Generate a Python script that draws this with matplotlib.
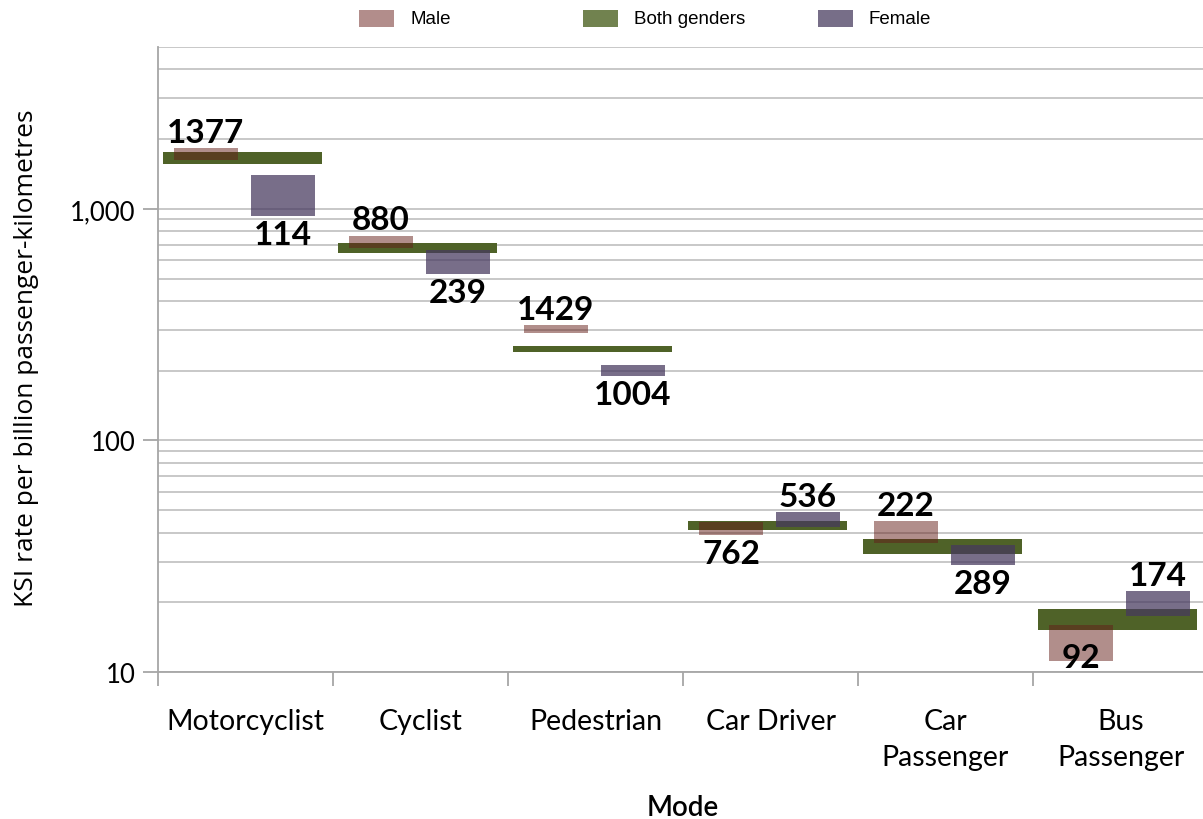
import matplotlib
matplotlib.use("Agg")
import matplotlib.pyplot as plt
from matplotlib.patches import Rectangle
import numpy as np

modes = ["Motorcyclist", "Cyclist", "Pedestrian", "Car Driver", "Car\nPassenger", "Bus\nPassenger"]
male_low = [1630, 676, 290, 39.2, 36.0, 11.2]
male_high = [1830, 767, 315, 44.6, 44.8, 16.0]
both_low = [1565, 644, 242, 41.1, 32.3, 15.2]
both_high = [1760, 713, 257, 44.8, 37.5, 18.7]
female_low = [935, 524, 190, 42.2, 29.1, 17.4]
female_high = [1405, 665, 212, 48.9, 35.4, 22.3]
male_n = [1377, 880, 1429, 762, 222, 92]
female_n = [114, 239, 1004, 536, 289, 174]
male_label_pos = ["above", "above", "above", "below", "above", "inside"]
female_label_pos = ["below", "below", "below", "above", "below", "above"]

C_MALE = (100/255, 30/255, 25/255)
C_FEMALE = (70/255, 56/255, 94/255)
C_BOTH = "#4F6228"

fig = plt.figure(figsize=(12.03, 8.2), dpi=100)
ax = fig.add_axes([158/1203, 1 - 673/820, 1050/1203, (673 - 48)/820])

x = np.arange(len(modes))
m_lo, m_hi = np.array(male_low), np.array(male_high)
b_lo, b_hi = np.array(both_low), np.array(both_high)
f_lo, f_hi = np.array(female_low), np.array(female_high)

ax.bar(x - 0.017, b_hi - b_lo, bottom=b_lo, width=0.908, color=C_BOTH, zorder=3)
ax.bar(x - 0.226, m_hi - m_lo, bottom=m_lo, width=0.366, color=C_MALE, alpha=0.5, zorder=4)
ax.bar(x + 0.214, f_hi - f_lo, bottom=f_lo, width=0.366, color=C_FEMALE, alpha=0.73, zorder=5)

ax.set_yscale("log")
ax.set_ylim(10, 5000)
ax.set_xlim(-0.5, len(modes) - 0.5)

lab_kw = dict(fontfamily="Lato", fontweight="bold", fontsize=24, color="black", ha="center", zorder=6)

def put(xc, lo, hi, n, pos):
    if pos == "above":
        ax.annotate(str(n), (xc, hi), xytext=(0, 1), textcoords="offset points", va="bottom", **lab_kw)
    elif pos == "below":
        ax.annotate(str(n), (xc, lo), xytext=(0, -3), textcoords="offset points", va="top", **lab_kw)
    else:
        ax.annotate(str(n), (xc, lo), xytext=(0, -4.5), textcoords="offset points", va="baseline", **lab_kw)

for i in range(len(modes)):
    put(x[i] - 0.226, m_lo[i], m_hi[i], male_n[i], male_label_pos[i])
    put(x[i] + 0.214, f_lo[i], f_hi[i], female_n[i], female_label_pos[i])

# grid
ax.yaxis.grid(True, which="both", color="#C4C4C4", linewidth=1.3, zorder=0)
ax.set_axisbelow(True)
for s in ["top", "right"]:
    ax.spines[s].set_visible(False)
for s in ["left", "bottom"]:
    ax.spines[s].set_color("#A6A6A6")
    ax.spines[s].set_linewidth(1.3)

ax.set_yticks([10, 100, 1000])
ax.set_yticklabels(["10", "100", "1,000"])
ax.yaxis.set_minor_formatter(matplotlib.ticker.NullFormatter())
ax.tick_params(axis="y", which="major", length=11, width=1.3, color="#A6A6A6", direction="out", pad=5)
ax.tick_params(axis="y", which="minor", length=0)

ax.set_xticks(np.arange(-0.5, len(modes), 1.0))
ax.set_xticklabels([])
ax.set_xticks(x, minor=True)
ax.set_xticklabels(modes, minor=True)
ax.tick_params(axis="x", which="major", length=10, width=1.3, color="#A6A6A6", direction="out")
ax.tick_params(axis="x", which="minor", length=0, pad=26)

for t in ax.get_xticklabels(minor=True):
    t.set_fontfamily("Lato")
    t.set_fontweight("normal")
    t.set_fontsize(20.5)
    t.set_color("black")
    t.set_linespacing(1.45)
for t in ax.get_yticklabels():
    t.set_fontfamily("Lato")
    t.set_fontweight("normal")
    t.set_fontsize(18.5)
    t.set_color("black")

ax.set_xlabel("Mode", fontfamily="Lato", fontweight="semibold", fontsize=20)
ax.xaxis.set_label_coords(0.5, -0.195)
ax.set_ylabel("KSI rate per billion passenger-kilometres", fontfamily="Open Sans",
              fontweight="medium", fontsize=19)
ax.yaxis.set_label_coords(-0.113, 0.504)

# legend (manual, figure coordinates)
W, H = 1203, 820
leg_items = [("Male", "#B28D8B", 359), ("Both genders", "#71824F", 583), ("Female", "#776E88", 818)]
for name, col, px in leg_items:
    fig.patches.append(Rectangle((px / W, 1 - 28 / H), 35 / W, 17 / H, transform=fig.transFigure,
                                 facecolor=col, edgecolor="none"))
    fig.text((px + 51) / W, 1 - 19.5 / H, name, fontfamily=["Liberation Sans Narrow", "Liberation Sans"],
             fontsize=13.5, va="center", ha="left", color="black")

fig.savefig("out.png", dpi=100)
